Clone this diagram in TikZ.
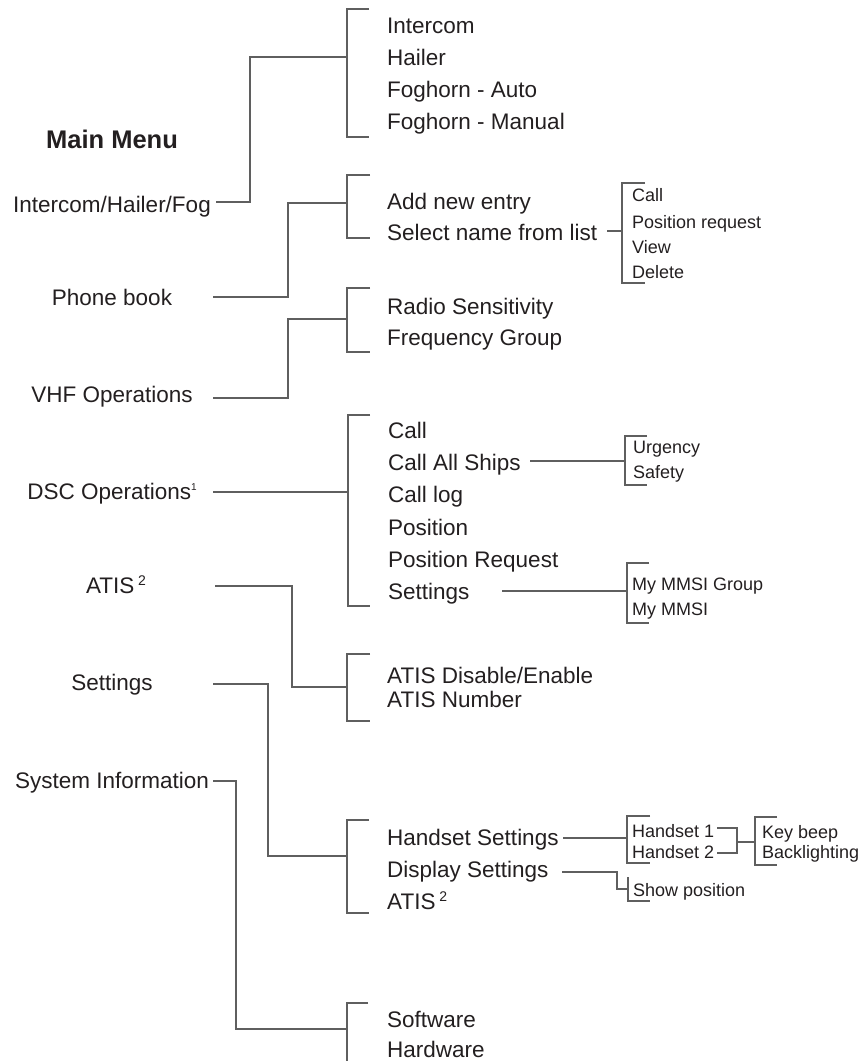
\documentclass[tikz,border=0pt]{standalone}
\usepackage{fontspec}
\setmainfont{Liberation Sans}
\definecolor{ln}{RGB}{95,95,95}
\definecolor{tx}{RGB}{35,31,32}
\begin{document}
\begin{tikzpicture}[x=1pt,y=-1pt,
  item/.style={anchor=base west,inner sep=0pt,text=tx,font=\fontsize{22.5}{27}\selectfont},
  root/.style={anchor=base,inner sep=0pt,text=tx,font=\fontsize{22.5}{27}\selectfont},
  sub/.style={anchor=base west,inner sep=0pt,text=tx,font=\fontsize{18}{21}\selectfont},
  conn/.style={draw=ln,line width=1.1pt}]
\useasboundingbox (0,0) rectangle (864,1061);

% ---------- left column ----------
\node[root,font=\fontsize{25.5}{30}\bfseries] (mm) at (112,148) {Main Menu};
\node[root] (ihf) at (112,212) {Intercom/Hailer/Fog};
\node[root] (pb) at (112,305) {Phone book};
\node[root] (vhf) at (112,402) {VHF Operations};
\node[root] (dsc) at (112,499) {DSC Operations\raisebox{9pt}{\fontsize{10}{10}\selectfont 1}};
\node[root] (atis) at (116,593) {ATIS\,\raisebox{8pt}{\fontsize{14}{14}\selectfont 2}};
\node[root] (set) at (112,690) {Settings};
\node[root] (sys) at (112,788) {System Information};

% ---------- Intercom ----------
\node[item] (i1) at (387,33) {Intercom};
\node[item] (i2) at (387,65) {Hailer};
\node[item] (i3) at (387,97) {Foghorn - Auto};
\node[item] (i4) at (387,129) {Foghorn - Manual};
\coordinate (ihfA) at (216,202); \coordinate (ihfB) at (250,202);
\coordinate (ihfC) at (250,57);  \coordinate (ihfD) at (347,57);
\draw[conn] (ihfA) -- (ihfB) -- (ihfC) -- (ihfD);
\draw[conn] (369,9) -- (347,9) -- (347,137) -- (369,137);

% ---------- Phone book ----------
\node[item] (p1) at (387,209) {Add new entry};
\node[item] (p2) at (387,240) {Select name from list};
\coordinate (pbA) at (213,297); \coordinate (pbB) at (288,297);
\coordinate (pbC) at (288,203); \coordinate (pbD) at (347,203);
\draw[conn] (pbA) -- (pbB) -- (pbC) -- (pbD);
\draw[conn] (370,175) -- (347,175) -- (347,238) -- (370,238);

\node[sub] (ps1) at (632,201) {Call};
\node[sub] (ps2) at (632,228) {Position request};
\node[sub] (ps3) at (632,253) {View};
\node[sub] (ps4) at (632,278) {Delete};
\coordinate (psA) at (607,231); \coordinate (psB) at (622,231);
\draw[conn] (psA) -- (psB);
\draw[conn] (645,183) -- (622,183) -- (622,283) -- (645,283);

% ---------- VHF ----------
\node[item] (v1) at (387,314) {Radio Sensitivity};
\node[item] (v2) at (387,345) {Frequency Group};
\coordinate (vA) at (213,398); \coordinate (vB) at (288,398);
\coordinate (vC) at (288,319); \coordinate (vD) at (347,319);
\draw[conn] (vA) -- (vB) -- (vC) -- (vD);
\draw[conn] (370,288) -- (347,288) -- (347,352) -- (370,352);

% ---------- DSC ----------
\node[item] (d1) at (388,438) {Call};
\node[item] (d2) at (388,470) {Call All Ships};
\node[item] (d3) at (388,502) {Call log};
\node[item] (d4) at (388,535) {Position};
\node[item] (d5) at (388,567) {Position Request};
\node[item] (d6) at (388,599) {Settings};
\coordinate (dA) at (213,492); \coordinate (dB) at (348,492);
\draw[conn] (dA) -- (dB);
\draw[conn] (370,415) -- (348,415) -- (348,606) -- (370,606);

\node[sub] (u1) at (633,453) {Urgency};
\node[sub] (u2) at (633,478) {Safety};
\coordinate (uA) at (530,461); \coordinate (uB) at (625,461);
\draw[conn] (uA) -- (uB);
\draw[conn] (647,436) -- (625,436) -- (625,485) -- (647,485);

\node[sub] (m1) at (632,590) {My MMSI Group};
\node[sub] (m2) at (632,615) {My MMSI};
\coordinate (mA) at (502,591); \coordinate (mB) at (627,591);
\draw[conn] (mA) -- (mB);
\draw[conn] (649,563) -- (627,563) -- (627,623) -- (649,623);

% ---------- ATIS ----------
\node[item] (a1) at (387,683) {ATIS Disable/Enable};
\node[item] (a2) at (387,707) {ATIS Number};
\coordinate (aA) at (215,586); \coordinate (aB) at (292,586);
\coordinate (aC) at (292,687); \coordinate (aD) at (347,687);
\draw[conn] (aA) -- (aB) -- (aC) -- (aD);
\draw[conn] (370,654) -- (347,654) -- (347,721) -- (370,721);

% ---------- Settings ----------
\node[item] (s1) at (387,845) {Handset Settings};
\node[item] (s2) at (387,877) {Display Settings};
\node[item] (s3) at (387,909) {ATIS\,\raisebox{8pt}{\fontsize{14}{14}\selectfont 2}};
\coordinate (sA) at (213,684); \coordinate (sB) at (268,684);
\coordinate (sC) at (268,856); \coordinate (sD) at (347,856);
\draw[conn] (sA) -- (sB) -- (sC) -- (sD);
\draw[conn] (369,820) -- (347,820) -- (347,913) -- (369,913);

\node[sub] (h1) at (632,837) {Handset 1};
\node[sub] (h2) at (632,858) {Handset 2};
\coordinate (hA) at (563,838); \coordinate (hB) at (627,838);
\draw[conn] (hA) -- (hB);
\draw[conn] (650,816) -- (627,816) -- (627,863) -- (650,863);
\coordinate (h1e) at (717,828); \coordinate (h1c) at (737,828);
\coordinate (h2e) at (717,853); \coordinate (h2c) at (737,853);
\coordinate (hm) at (737,842); \coordinate (kb) at (755,842);
\draw[conn] (h1e) -- (h1c) -- (h2c) -- (h2e);
\draw[conn] (hm) -- (kb);
\node[sub] (k1) at (762,838) {Key beep};
\node[sub] (k2) at (762,858) {Backlighting};
\draw[conn] (777,817) -- (755,817) -- (755,865) -- (777,865);

\node[sub] (sp) at (633,896) {Show position};
\coordinate (spA) at (562,872); \coordinate (spB) at (617,872);
\coordinate (spC) at (617,889); \coordinate (spD) at (628,889);
\draw[conn] (spA) -- (spB) -- (spC) -- (spD);
\draw[conn] (628,877) -- (628,901) -- (650,901);

% ---------- System Information ----------
\node[item] (y1) at (387,1027) {Software};
\node[item] (y2) at (387,1057) {Hardware};
\coordinate (yA) at (213,781); \coordinate (yB) at (236,781);
\coordinate (yC) at (236,1029); \coordinate (yD) at (347,1029);
\draw[conn] (yA) -- (yB) -- (yC) -- (yD);
\draw[conn] (368,1003) -- (347,1003) -- (347,1061);
\end{tikzpicture}
\end{document}
